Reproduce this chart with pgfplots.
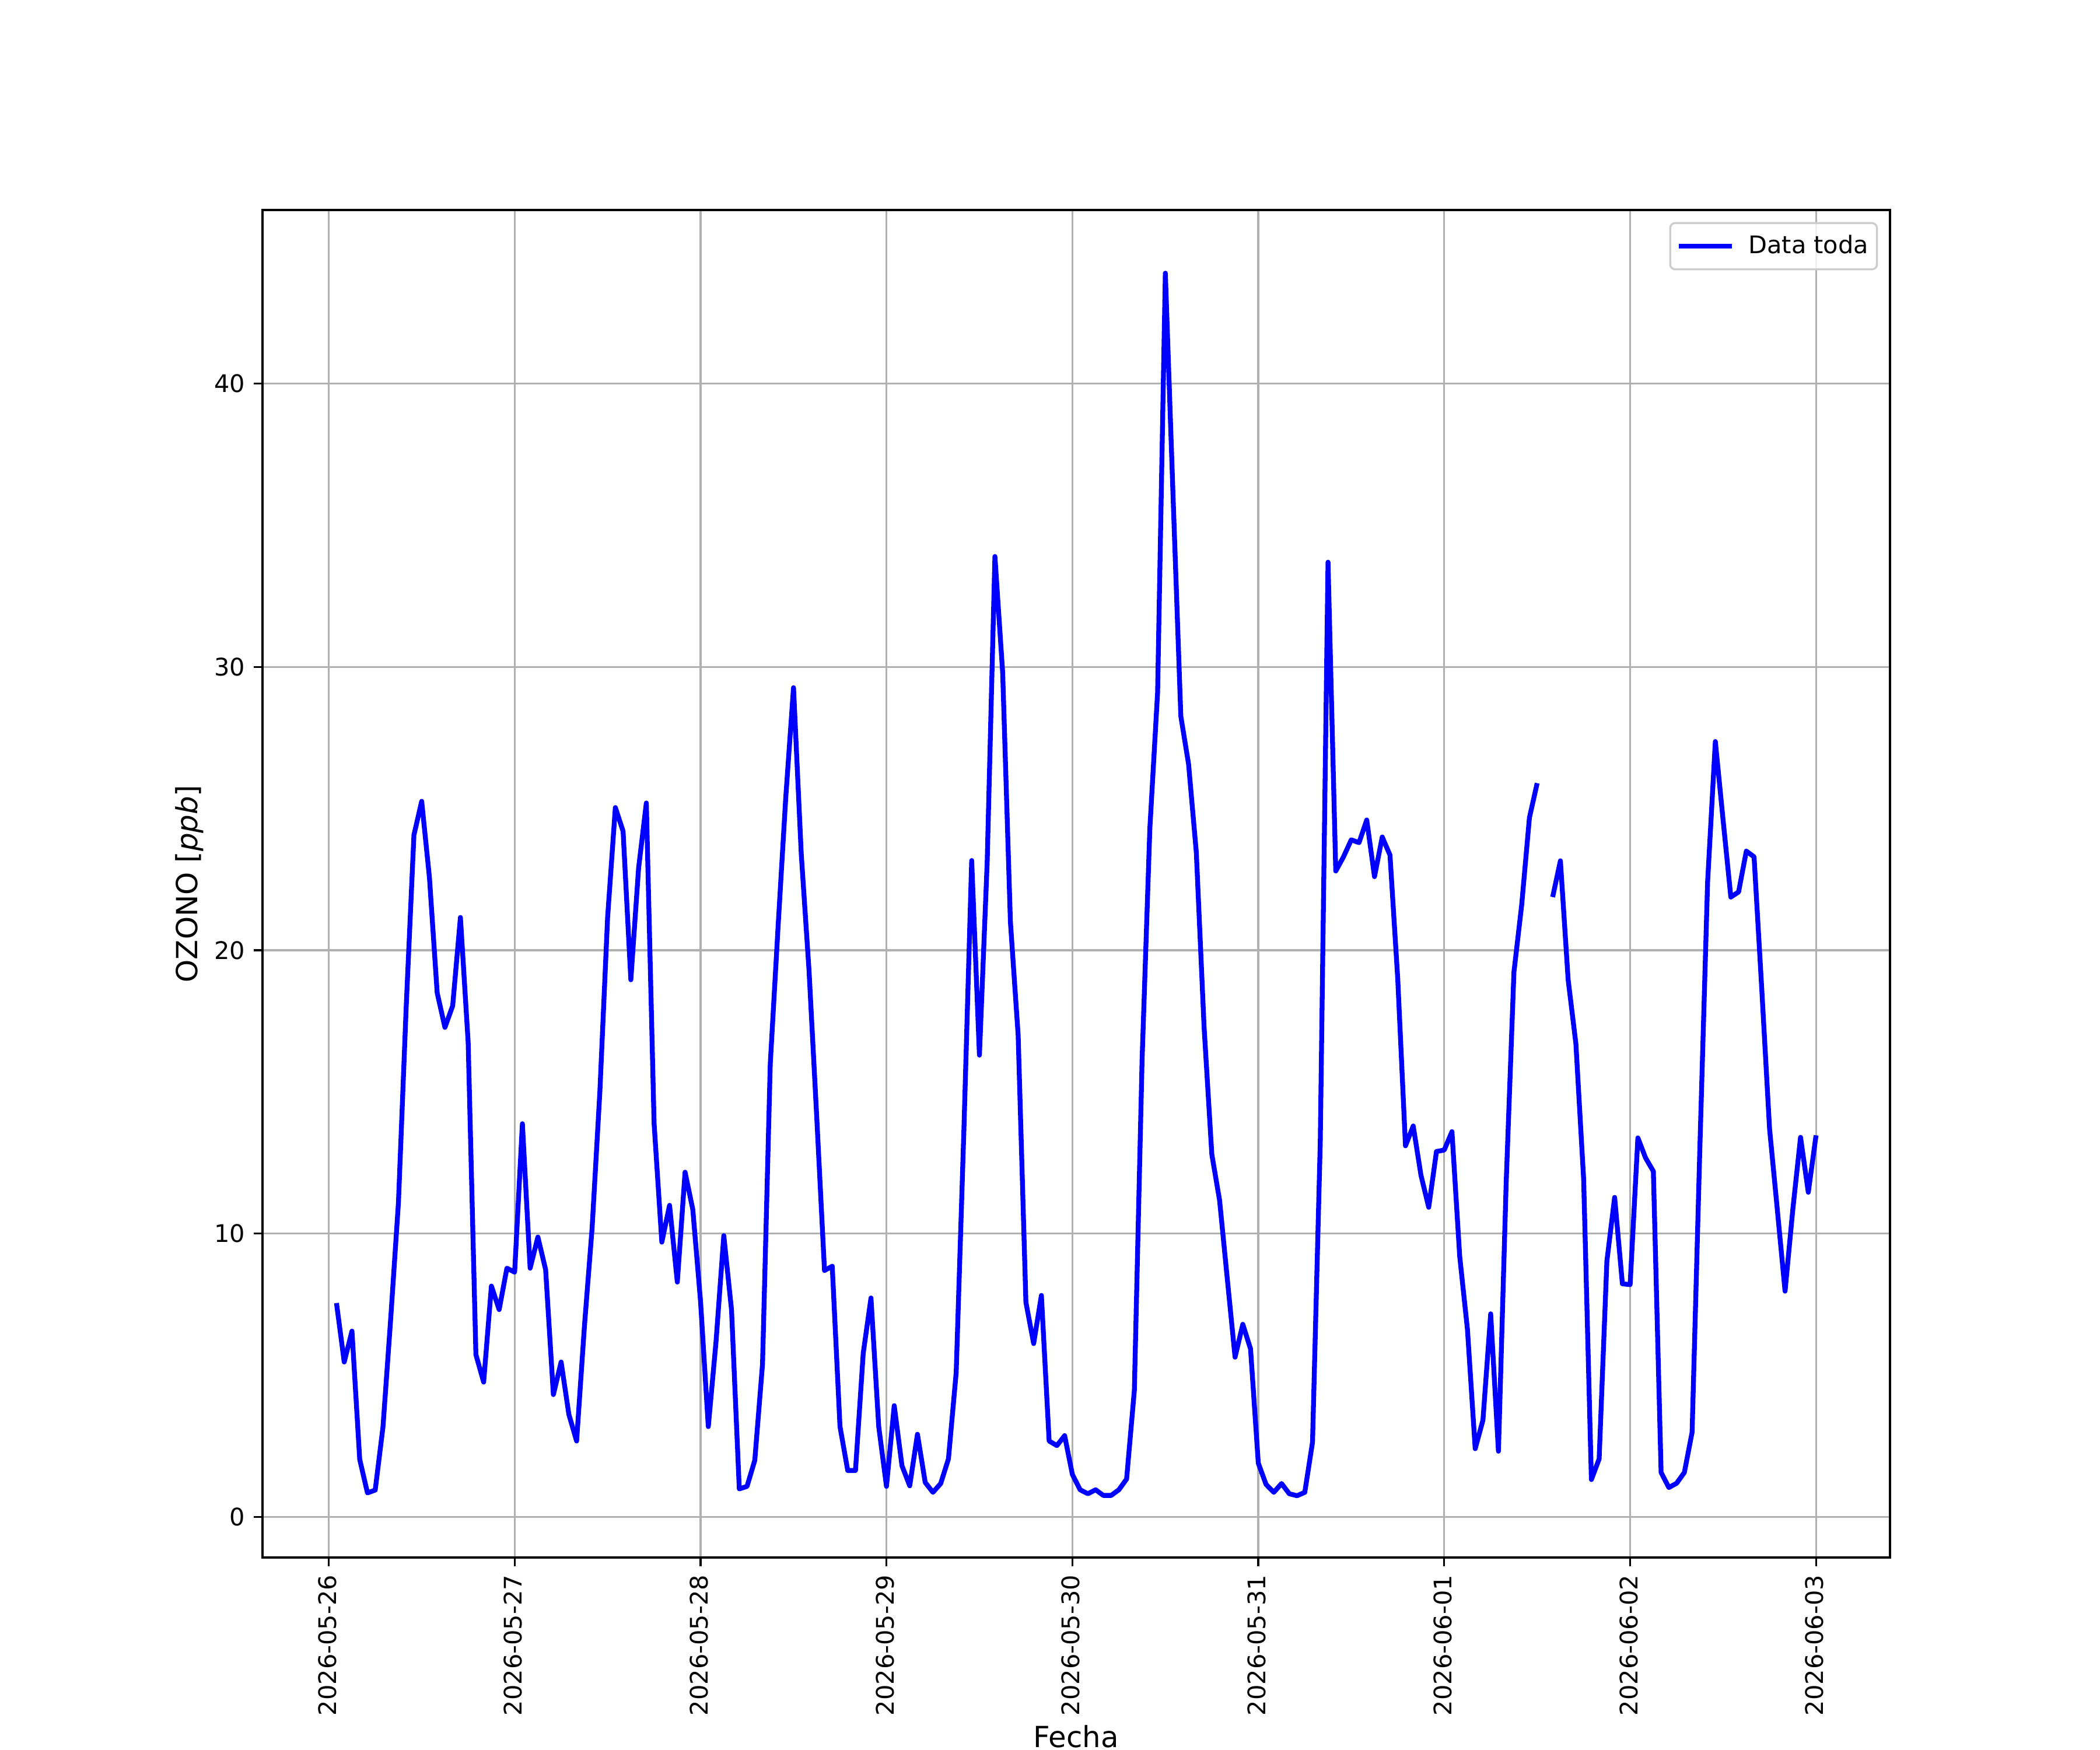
\documentclass[border=0pt]{standalone}
\usepackage{fontspec}
\setmainfont{DejaVu Sans}
\usepackage{pgfplots}
\pgfplotsset{compat=1.18}
\usepackage{pgfplotstable}
\definecolor{gridgray}{HTML}{B0B0B0}
\definecolor{legedge}{HTML}{CCCCCC}
\pgfplotstableread{
h v
1 7.55
2 5.47
3 6.56
4 2.03
5 0.85
6 0.95
7 3.17
8 7.0
9 11.1
10 18.0
11 24.07
12 25.26
13 22.57
14 18.5
15 17.28
16 18.04
17 21.16
18 16.75
19 5.73
20 4.76
21 8.15
22 7.32
23 8.78
24 8.64
25 13.88
26 8.78
27 9.88
28 8.73
29 4.32
30 5.47
31 3.62
32 2.68
33 6.7
34 10.2
35 15.0
36 21.16
37 25.04
38 24.2
39 18.96
40 22.9
41 25.2
42 13.9
43 9.7
44 11.0
45 8.29
46 12.17
47 10.85
48 7.6
49 3.19
50 6.2
51 9.93
52 7.3
53 0.99
54 1.08
55 2.0
56 5.4
57 16.0
58 20.8
59 25.4
60 29.27
61 23.4
62 19.3
63 14.1
64 8.7
65 8.85
66 3.19
67 1.64
68 1.64
69 5.78
70 7.73
71 3.19
72 1.08
73 3.93
74 1.81
75 1.1
76 2.92
77 1.22
78 0.87
79 1.18
80 2.05
81 5.1
82 13.7
83 23.17
84 16.3
85 23.1
86 33.9
87 29.8
88 21.0
89 17.0
90 7.58
91 6.12
92 7.82
93 2.68
94 2.52
95 2.87
96 1.5
97 0.96
98 0.82
99 0.96
100 0.76
101 0.76
102 0.96
103 1.34
104 4.47
105 16.15
106 24.3
107 29.1
108 43.9
109 36.0
110 28.26
111 26.57
112 23.45
113 17.3
114 12.8
115 11.18
116 8.4
117 5.64
118 6.8
119 5.93
120 1.9
121 1.15
122 0.87
123 1.18
124 0.82
125 0.75
126 0.87
127 2.64
128 13.23
129 33.7
130 22.8
131 23.3
132 23.9
133 23.8
134 24.6
135 22.6
136 24.0
137 23.36
138 19.0
139 13.1
140 13.8
141 12.06
142 10.93
143 12.9
144 12.95
145 13.6
146 9.2
147 6.62
148 2.41
149 3.42
150 7.17
151 2.32
152 11.8
153 19.23
154 21.6
155 24.68
156 25.9
157 nan
158 21.88
159 23.16
160 18.96
161 16.7
162 11.92
163 1.32
164 2.05
165 9.03
166 11.28
167 8.23
168 8.2
169 13.38
170 12.67
171 12.2
172 1.57
173 1.04
174 1.19
175 1.57
176 2.99
177 13.0
178 22.4
179 27.37
180 24.6
181 21.88
182 22.06
183 23.5
184 23.3
185 18.6
186 13.7
187 10.85
188 7.97
189 10.85
190 13.4
191 11.46
192 13.47
}\ozono
\begin{document}
\fontsize{10}{12}\selectfont
\begin{tikzpicture}
\path (0,0) rectangle (12in,10in);
\begin{axis}[
  at={(1.5in,1.1in)}, anchor=south west,
  scale only axis, width=9.3in, height=7.7in,
  xmin=-8.55, xmax=201.55, ymin=-1.43, ymax=46.13,
  xtick={0,24,48,72,96,120,144,168,192},
  xticklabels={2026-05-26,2026-05-27,2026-05-28,2026-05-29,2026-05-30,2026-05-31,2026-06-01,2026-06-02,2026-06-03},
  ytick={0,10,20,30,40},
  tick pos=left, tick align=outside,
  major tick length=3.5pt,
  every tick/.style={black, line width=0.8pt},
  axis line style={line width=0.8pt},
  grid=major,
  major grid style={gridgray, line width=0.8pt},
  /pgf/number format/assume math mode=true,
  tick label style={font=\fontsize{10}{12}\selectfont},
  xticklabel style={rotate=90, anchor=east, inner sep=0pt, xshift=-3.5pt, yshift=0.6pt},
  yticklabel style={inner sep=0pt, xshift=-3.5pt},
  xlabel={Fecha}, ylabel={OZONO [\textit{ppb}]},
  label style={font=\fontsize{12}{14}\selectfont},
  xlabel style={inner sep=0pt, at={(ticklabel cs:0.5,3.8pt)}, anchor=north},
  ylabel style={inner sep=0pt, at={(ticklabel cs:0.5,4.3pt)}},
  unbounded coords=jump,
  legend style={at={(1,1)}, anchor=north east, xshift=-5pt, yshift=-5pt,
    draw=legedge, line width=0.8pt, rounded corners=2pt, fill=white, fill opacity=0.8, text opacity=1,
    inner xsep=3.5pt, inner ysep=5pt, font=\fontsize{10}{12}\selectfont,
    nodes={inner sep=0pt},
    /tikz/every odd column/.append style={column sep=6.8pt}},
  legend cell align=left,
  legend image code/.code={\draw[#1, line cap=rect] (0pt,0pt) -- (20pt,0pt);},
]
\addplot[color={rgb,1:red,0;green,0;blue,1}, line width=2pt, line join=round] table[x=h, y=v] {\ozono};
\addlegendentry{Data toda}
\end{axis}
\pgfresetboundingbox
\useasboundingbox (0,0) rectangle (12in,10in);
\end{tikzpicture}
\end{document}
